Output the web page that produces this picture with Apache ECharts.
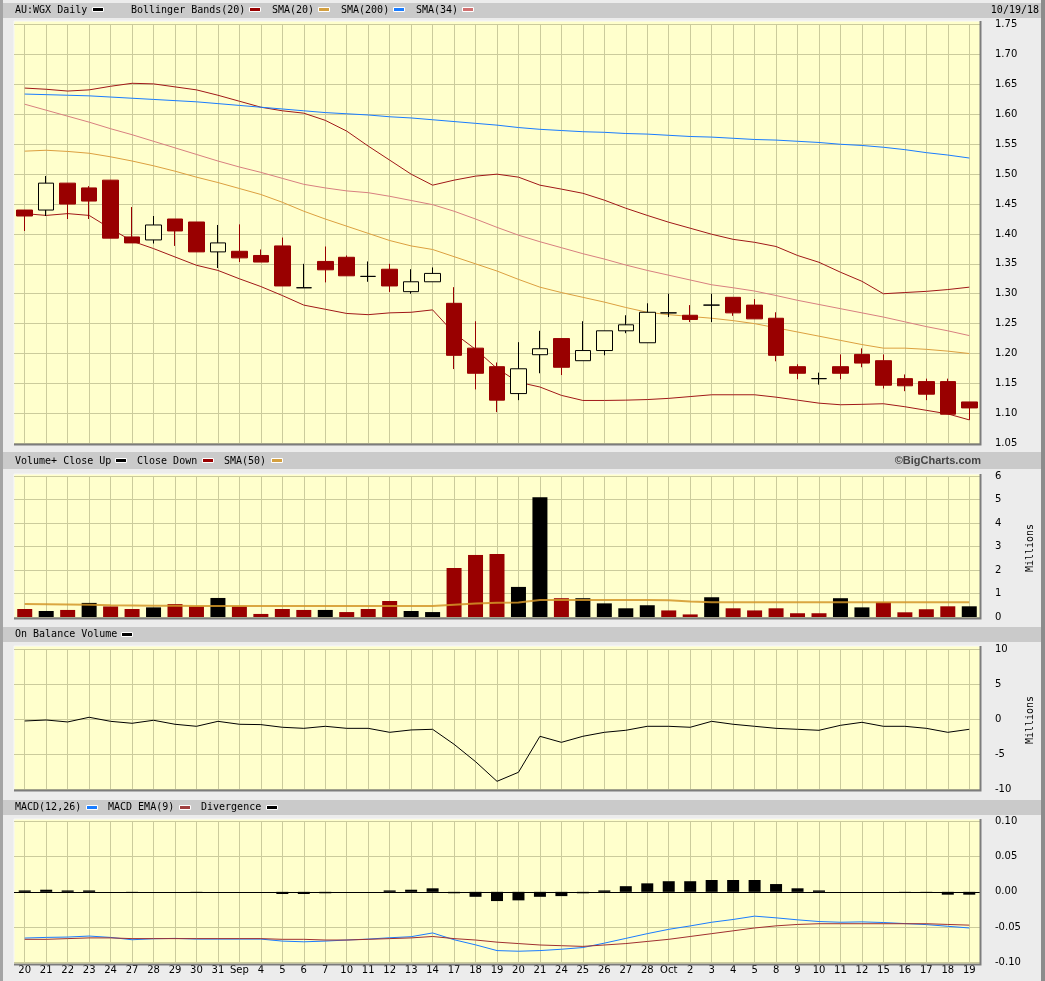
<!DOCTYPE html>
<html><head><meta charset="utf-8">
<script src="https://cdn.jsdelivr.net/npm/echarts@6/dist/echarts.min.js"></script>
<style>html,body{margin:0;padding:0;background:#ececec;}#c{width:1045px;height:981px;}</style>
</head><body><div id="c"></div>
<script>
// ---------- data ----------
const dates = ['2018-08-20','2018-08-21','2018-08-22','2018-08-23','2018-08-24','2018-08-27','2018-08-28','2018-08-29','2018-08-30','2018-08-31',
'2018-09-03','2018-09-04','2018-09-05','2018-09-06','2018-09-07','2018-09-10','2018-09-11','2018-09-12','2018-09-13','2018-09-14',
'2018-09-17','2018-09-18','2018-09-19','2018-09-20','2018-09-21','2018-09-24','2018-09-25','2018-09-26','2018-09-27','2018-09-28',
'2018-10-01','2018-10-02','2018-10-03','2018-10-04','2018-10-05','2018-10-08','2018-10-09','2018-10-10','2018-10-11','2018-10-12',
'2018-10-15','2018-10-16','2018-10-17','2018-10-18','2018-10-19'];
const tickLabels = ['20','21','22','23','24','27','28','29','30','31','Sep','4','5','6','7','10','11','12','13','14','17','18','19','20','21','24','25','26','27','28','Oct','2','3','4','5','8','9','10','11','12','15','16','17','18','19'];
const openP  = [1.44,1.44,1.485,1.477,1.49,1.395,1.39,1.425,1.42,1.37,1.371,1.364,1.38,1.31,1.354,1.361,1.329,1.341,1.3035,1.32,1.284,1.209,1.178,1.133,1.198,1.225,1.188,1.205,1.238,1.218,1.268,1.264,1.281,1.294,1.281,1.259,1.178,1.158,1.178,1.1985,1.188,1.158,1.153,1.153,1.119];
const closeP = [1.43,1.485,1.45,1.455,1.393,1.385,1.415,1.405,1.37,1.385,1.36,1.353,1.313,1.31,1.34,1.33,1.329,1.313,1.32,1.334,1.197,1.167,1.122,1.1745,1.208,1.177,1.205,1.238,1.248,1.269,1.268,1.257,1.281,1.268,1.258,1.197,1.167,1.158,1.167,1.184,1.147,1.146,1.132,1.0985,1.109];
const lowP   = [1.405,1.43,1.425,1.425,1.393,1.385,1.384,1.38,1.37,1.343,1.353,1.353,1.313,1.31,1.319,1.33,1.32,1.303,1.30,1.32,1.174,1.14,1.102,1.122,1.167,1.164,1.188,1.197,1.234,1.218,1.261,1.2526,1.2526,1.263,1.258,1.187,1.157,1.148,1.157,1.177,1.1415,1.137,1.122,1.0985,1.089];
const highP  = [1.44,1.497,1.485,1.48,1.49,1.445,1.43,1.425,1.42,1.415,1.416,1.374,1.394,1.35,1.379,1.364,1.354,1.35,1.341,1.344,1.311,1.254,1.185,1.219,1.238,1.225,1.254,1.238,1.264,1.284,1.30,1.281,1.30,1.294,1.291,1.269,1.182,1.168,1.1985,1.2086,1.1985,1.165,1.158,1.158,1.119];
const bbUpper = [1.644,1.642,1.639,1.641,1.647,1.652,1.651,1.646,1.641,1.632,1.622,1.612,1.606,1.602,1.59,1.572,1.547,1.5235,1.50,1.4816,1.49,1.4967,1.50,1.495,1.4816,1.475,1.468,1.4565,1.443,1.431,1.4196,1.4096,1.3995,1.391,1.386,1.379,1.364,1.3526,1.336,1.3208,1.30,1.302,1.304,1.307,1.311];
const bbLower = [1.434,1.431,1.434,1.431,1.409,1.388,1.3755,1.3615,1.3476,1.339,1.325,1.312,1.297,1.281,1.274,1.267,1.265,1.268,1.269,1.273,1.234,1.207,1.175,1.152,1.144,1.13,1.1215,1.1215,1.122,1.123,1.125,1.128,1.131,1.131,1.131,1.127,1.122,1.117,1.1143,1.115,1.116,1.111,1.105,1.099,1.089];
const sma20 = [1.5385,1.54,1.538,1.535,1.529,1.522,1.514,1.505,1.495,1.486,1.476,1.466,1.453,1.438,1.425,1.413,1.401,1.389,1.38,1.374,1.362,1.35,1.338,1.324,1.311,1.302,1.294,1.286,1.277,1.269,1.265,1.262,1.259,1.255,1.25,1.243,1.236,1.229,1.222,1.215,1.209,1.209,1.207,1.204,1.20];
const sma34 = [1.617,1.607,1.597,1.587,1.576,1.566,1.555,1.544,1.533,1.522,1.512,1.503,1.493,1.483,1.477,1.472,1.469,1.463,1.456,1.449,1.438,1.425,1.411,1.398,1.387,1.377,1.367,1.358,1.348,1.339,1.331,1.323,1.315,1.31,1.3045,1.297,1.289,1.282,1.275,1.268,1.261,1.253,1.245,1.238,1.23];
const sma200 = [1.634,1.633,1.632,1.631,1.629,1.627,1.625,1.623,1.621,1.618,1.615,1.612,1.609,1.606,1.603,1.601,1.599,1.596,1.594,1.591,1.588,1.585,1.582,1.578,1.575,1.573,1.571,1.57,1.568,1.567,1.565,1.563,1.562,1.56,1.558,1.557,1.555,1.553,1.55,1.548,1.545,1.541,1.536,1.532,1.527];
const volume = [0.34,0.255,0.30,0.60,0.45,0.34,0.41,0.55,0.45,0.81,0.45,0.13,0.34,0.30,0.30,0.21,0.34,0.68,0.255,0.21,2.085,2.64,2.68,1.28,5.1,0.80,0.80,0.58,0.37,0.50,0.28,0.11,0.84,0.37,0.28,0.37,0.16,0.16,0.80,0.41,0.63,0.20,0.33,0.455,0.455];
const volSma50 = [0.55,0.54,0.53,0.52,0.50,0.49,0.48,0.48,0.47,0.47,0.47,0.47,0.47,0.47,0.47,0.47,0.47,0.47,0.47,0.47,0.52,0.57,0.61,0.62,0.72,0.72,0.72,0.72,0.72,0.72,0.71,0.66,0.63,0.63,0.63,0.63,0.63,0.63,0.63,0.63,0.63,0.63,0.63,0.63,0.63];
const obv = [-0.24,-0.10,-0.38,0.29,-0.29,-0.57,-0.14,-0.71,-1.0,-0.29,-0.71,-0.76,-1.14,-1.29,-1.0,-1.29,-1.29,-1.86,-1.52,-1.43,-3.57,-6.05,-8.86,-7.57,-2.43,-3.29,-2.43,-1.86,-1.57,-1.0,-1.0,-1.14,-0.29,-0.71,-1.0,-1.29,-1.43,-1.57,-0.86,-0.43,-1.0,-1.0,-1.29,-1.86,-1.43];
const macd = [-0.0652,-0.0643,-0.0638,-0.0624,-0.0643,-0.0676,-0.0662,-0.0657,-0.0667,-0.0667,-0.0667,-0.0667,-0.0695,-0.0705,-0.0695,-0.068,-0.0667,-0.0648,-0.0633,-0.058,-0.0676,-0.0748,-0.0829,-0.0838,-0.0829,-0.081,-0.0786,-0.0724,-0.0657,-0.059,-0.0529,-0.0481,-0.0429,-0.039,-0.0343,-0.0367,-0.0395,-0.0419,-0.0429,-0.0424,-0.0433,-0.0448,-0.0462,-0.0486,-0.051];
const macdEma = [-0.067,-0.067,-0.066,-0.065,-0.065,-0.066,-0.066,-0.066,-0.066,-0.066,-0.066,-0.066,-0.067,-0.067,-0.068,-0.068,-0.067,-0.066,-0.065,-0.063,-0.066,-0.068,-0.071,-0.073,-0.075,-0.076,-0.077,-0.075,-0.073,-0.070,-0.067,-0.063,-0.059,-0.055,-0.051,-0.048,-0.046,-0.045,-0.045,-0.045,-0.045,-0.045,-0.045,-0.046,-0.047];
const divergence = [0.002,0.003,0.002,0.002,0,-0.0015,0,0,-0.0015,0,0,0,-0.003,-0.003,-0.002,0,0,0.002,0.003,0.005,-0.002,-0.007,-0.013,-0.012,-0.007,-0.006,-0.002,0.002,0.008,0.012,0.015,0.015,0.0167,0.0167,0.0167,0.011,0.005,0.002,0,0,0,-0.0015,-0.0015,-0.004,-0.004];

// ---------- styling ----------
const RED = '#990000', GRID = '#cbcb9c', BG = '#ffffcc';
const MONO = '10px "DejaVu Sans Mono"';
const candleData = openP.map((o, i) => {
  const item = { value: [o, closeP[i], lowP[i], highP[i]] };
  if (o === closeP[i]) item.itemStyle = { borderColor: '#000', borderColor0: '#000', borderColorDoji: '#000' };
  return item;
});
const volData = volume.map((v, i) => {
  const up = i === 0 ? closeP[0] > openP[0] : closeP[i] > closeP[i - 1];
  return { value: v, itemStyle: { color: up ? '#000' : RED } };
});

const panels = [
  { x: 14, y: 21, h: 423 },
  { x: 14, y: 474, h: 144 },
  { x: 14, y: 646, h: 144 },
  { x: 14, y: 819, h: 145 }
];
const grids = [
  { left: 14, width: 966, top: 24.7, height: 418.5 },
  { left: 14, width: 966, top: 476, height: 141 },
  { left: 14, width: 966, top: 649.3, height: 140 },
  { left: 14, width: 966, top: 821, height: 141.7 }
];
const yCfg = [
  { min: 1.05, max: 1.75, interval: 0.05, fmt: v => v.toFixed(2) },
  { min: 0, max: 6, interval: 1, fmt: v => String(Math.round(v)) },
  { min: -10, max: 10, interval: 5, fmt: v => String(Math.round(v)) },
  { min: -0.1, max: 0.1, interval: 0.05, fmt: v => (Math.abs(v) < 1e-9 ? 0 : v).toFixed(2) }
];

const graphics = [];
// left/right edges
graphics.push({ type: 'rect', z: -20, shape: { x: 0, y: 0, width: 3, height: 981 }, style: { fill: '#a4a4a4' } });
graphics.push({ type: 'rect', z: -20, shape: { x: 1041, y: 0, width: 4, height: 981 }, style: { fill: '#8c8c8c' } });
// header bars
[[3, 15], [452, 17], [627, 15], [800, 15]].forEach(([y, h]) => {
  graphics.push({ type: 'rect', z: -20, shape: { x: 3, y: y, width: 1038, height: h }, style: { fill: '#cacaca' } });
});
// panel backgrounds
panels.forEach(p => {
  graphics.push({ type: 'rect', z: -10, shape: { x: p.x, y: p.y, width: 966, height: p.h }, style: { fill: BG } });
  graphics.push({ type: 'polyline', z: -5, shape: { points: [[p.x, p.y + p.h], [p.x, p.y], [p.x + 966, p.y]] }, style: { stroke: '#f8f8f8', lineWidth: 1, fill: null } });
  graphics.push({ type: 'polyline', z: 20, shape: { points: [[p.x, p.y + p.h + 0.5], [p.x + 966.5, p.y + p.h + 0.5], [p.x + 966.5, p.y]] }, style: { stroke: '#7c7c7c', lineWidth: 2, fill: null } });
});
function txt(t, x, y, opts) {
  graphics.push(Object.assign({ type: 'text', z: 30, x: x, y: y,
    style: Object.assign({ text: t, font: MONO, fill: '#000', align: 'left', verticalAlign: 'middle', textAlign: 'left', textVerticalAlign: 'middle' }, (opts && opts.style) || {}) },
    (opts && opts.el) || {}));
}
function swatch(x, y, c) {
  graphics.push({ type: 'rect', z: 30, shape: { x: x + 0.5, y: y + 0.5, width: 11, height: 4 }, style: { fill: c, stroke: '#ffffff', lineWidth: 1 } });
}
// header 1
txt('AU:WGX Daily', 15, 10); swatch(92, 7, '#000');
txt('Bollinger Bands(20)', 131, 10); swatch(249, 7, RED);
txt('SMA(20)', 272, 10); swatch(318, 7, '#d4a040');
txt('SMA(200)', 341, 10); swatch(393, 7, '#1a7cff');
txt('SMA(34)', 416, 10); swatch(462, 7, '#d07070');
txt('10/19/18', 1039, 10, { style: { align: 'right', textAlign: 'right' } });
// header 2
txt('Volume+ Close Up', 15, 461); swatch(115, 458, '#000');
txt('Close Down', 137, 461); swatch(202, 458, RED);
txt('SMA(50)', 224, 461); swatch(271, 458, '#d4a040');
txt('\u00a9BigCharts.com', 981, 461, { style: { align: 'right', textAlign: 'right', font: 'bold 11px "Liberation Sans"', fill: '#444' } });
// header 3
txt('On Balance Volume', 15, 634.5); swatch(121, 632, '#000');
// header 4
txt('MACD(12,26)', 15, 807.5); swatch(86, 805, '#1a7cff');
txt('MACD EMA(9)', 108, 807.5); swatch(179, 805, '#a04040');
txt('Divergence', 201, 807.5); swatch(266, 805, '#000');
// Millions
txt('Millions', 1030, 548, { style: { align: 'center', textAlign: 'center' }, el: { rotation: Math.PI / 2 } });
txt('Millions', 1030, 720, { style: { align: 'center', textAlign: 'center' }, el: { rotation: Math.PI / 2 } });

const xAxes = grids.map((g, i) => ({
  type: 'category', gridIndex: i, data: dates, boundaryGap: true,
  axisLine: { show: false }, axisTick: { show: false },
  axisLabel: { show: i === 3, interval: 0, margin: 3, fontSize: 10, fontFamily: 'DejaVu Sans', color: '#000',
    formatter: (v, idx) => tickLabels[idx] },
  splitLine: { show: true, interval: 0, alignWithLabel: true, lineStyle: { color: GRID, width: 1 } }
}));
const yAxes = yCfg.map((c, i) => ({
  type: 'value', gridIndex: i, position: 'right', min: c.min, max: c.max, interval: c.interval,
  axisLine: { show: false }, axisTick: { show: false },
  axisLabel: { margin: 15, fontSize: 10, fontFamily: 'DejaVu Sans', color: '#000', formatter: c.fmt },
  splitLine: { show: true, lineStyle: { color: GRID, width: 1 } }
}));
function line(data, color, xi, width, z) {
  return { type: 'line', xAxisIndex: xi, yAxisIndex: xi, data: data, symbol: 'none', showSymbol: false, silent: true,
    lineStyle: { color: color, width: width || 1 }, z: z || 2 };
}
const option = {
  animation: false,
  backgroundColor: '#ececec',
  grid: grids,
  xAxis: xAxes,
  yAxis: yAxes,
  graphic: { elements: graphics },
  series: [
    line(bbUpper, '#a01818', 0),
    line(bbLower, '#a01818', 0),
    line(sma20, '#dca040', 0),
    line(sma200, '#1a7cff', 0),
    line(sma34, '#d88080', 0),
    { type: 'candlestick', xAxisIndex: 0, yAxisIndex: 0, data: candleData, barWidth: 16, z: 4,
      itemStyle: { color: BG, color0: RED, borderColor: '#000', borderColor0: RED, borderColorDoji: '#000', borderWidth: 1 } },
    { type: 'bar', xAxisIndex: 1, yAxisIndex: 1, data: volData, barWidth: 15, z: 3 },
    line(volSma50, 'rgba(212,150,40,0.85)', 1, 2, 5),
    line(obv, '#000', 2, 1),
    { type: 'bar', xAxisIndex: 3, yAxisIndex: 3, data: divergence, barWidth: 12, itemStyle: { color: '#000' }, z: 3,
      markLine: { silent: true, symbol: 'none', label: { show: false }, lineStyle: { color: '#000', width: 1, type: 'solid' }, data: [{ yAxis: 0 }] } },
    line(macd, '#1a7cff', 3, 1, 4),
    line(macdEma, '#a03030', 3, 1, 4)
  ]
};
const chart = echarts.init(document.getElementById('c'), null, { renderer: 'canvas' });
chart.setOption(option);
</script></body></html>
